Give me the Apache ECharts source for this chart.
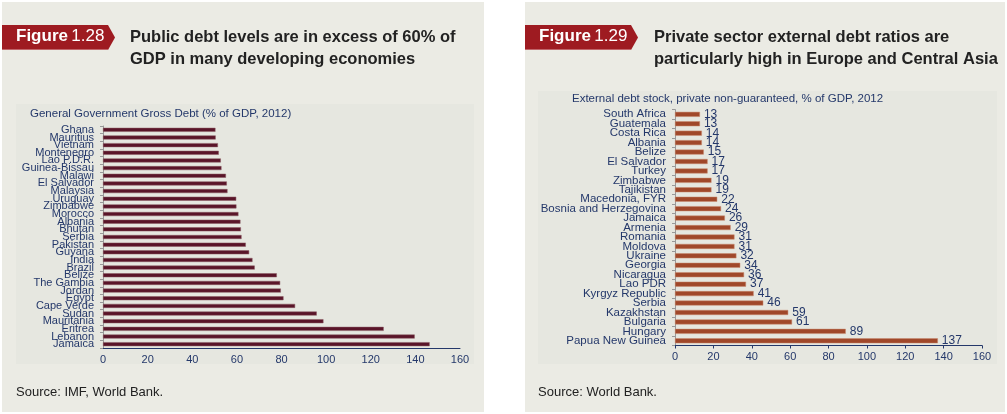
<!DOCTYPE html>
<html><head><meta charset="utf-8">
<script src="https://cdn.jsdelivr.net/npm/echarts@6/dist/echarts.min.js"></script>
<style>html,body{margin:0;padding:0;background:#fff}#c{width:1007px;height:414px}</style>
</head><body><div id="c"></div>
<script>
const leftCategories = ["Ghana","Mauritius","Vietnam","Montenegro","Lao P.D.R.","Guinea-Bissau","Malawi","El Salvador","Malaysia","Uruguay","Zimbabwe","Morocco","Albania","Bhutan","Serbia","Pakistan","Guyana","India","Brazil","Belize","The Gambia","Jordan","Egypt","Cape Verde","Sudan","Mauritania","Eritrea","Lebanon","Jamaica"];
const leftValues = [50.4,50.5,51.5,51.9,52.8,53.1,55.1,55.5,55.8,59.7,59.8,60.7,61.6,61.8,62.1,64.0,65.5,67.0,68.0,77.9,79.4,79.7,80.9,86.1,95.8,98.8,125.8,139.7,146.4];
const rightCategories = ["South Africa","Guatemala","Costa Rica","Albania","Belize","El Salvador","Turkey","Zimbabwe","Tajikistan","Macedonia, FYR","Bosnia and Herzegovina","Jamaica","Armenia","Romania","Moldova","Ukraine","Georgia","Nicaragua","Lao PDR","Kyrgyz Republic","Serbia","Kazakhstan","Bulgaria","Hungary","Papua New Guinea"];
const rightValues = [13,13,14,14,15,17,17,19,19,22,24,26,29,31,31,32,34,36,37,41,46,59,61,89,137];
const xTicks = [0,20,40,60,80,100,120,140,160];

const NAVY = '#24386a';
const FONT = '"Liberation Sans", Arial, sans-serif';
const chart = echarts.init(document.getElementById('c'));

function badge(x, num) {
  return [
    {type:'polygon', shape:{points:[[x,25],[x+106,25],[x+113,37.5],[x+106,50],[x,50]]}, style:{fill:'#9e1b21'}},
    {type:'line', shape:{x1:x,y1:49.5,x2:x+106,y2:49.5}, style:{stroke:'#c0666a',lineWidth:1}},
    {type:'text', left:x+14, top:28, style:{text:'{a|Figure} {b|'+num+'}', rich:{a:{fontSize:17,fontWeight:'bold',fill:'#fff',fontFamily:FONT},b:{fontSize:17,fill:'#fff',fontFamily:FONT}}}}
  ];
}

chart.setOption({
  backgroundColor:'#ffffff',
  animation:false,
  graphic:[
    {type:'rect', shape:{x:2,y:2,width:482,height:410}, style:{fill:'#ebebe4'}, z:-10},
    {type:'rect', shape:{x:16,y:104,width:458,height:260}, style:{fill:'#e6e7e0'}, z:-9},
    {type:'rect', shape:{x:525,y:2,width:480,height:410}, style:{fill:'#ebebe4'}, z:-10},
    {type:'rect', shape:{x:538,y:91,width:459,height:273}, style:{fill:'#e6e7e0'}, z:-9},
    ...badge(2,'1.28'),
    ...badge(525,'1.29'),
    {type:'text', left:130, top:26, style:{text:'Public debt levels are in excess of 60% of\nGDP in many developing economies', fontSize:16.5, fontWeight:'bold', fill:'#222', fontFamily:FONT, lineHeight:22}},
    {type:'text', left:654, top:26, style:{text:'Private sector external debt ratios are\nparticularly high in Europe and Central Asia', fontSize:16.5, fontWeight:'bold', fill:'#222', fontFamily:FONT, lineHeight:22}},
    {type:'text', left:30, top:108, style:{text:'General Government Gross Debt (% of GDP, 2012)', fontSize:11.5, fill:NAVY, fontFamily:FONT}},
    {type:'text', left:572, top:93, style:{text:'External debt stock, private non-guaranteed, % of GDP, 2012', fontSize:11.5, fill:NAVY, fontFamily:FONT}},
    {type:'text', left:16, top:386, style:{text:'Source: IMF, World Bank.', fontSize:13, fill:'#222', fontFamily:FONT}},
    {type:'text', left:538, top:386, style:{text:'Source: World Bank.', fontSize:13, fill:'#222', fontFamily:FONT}}
  ],
  grid:[
    {left:103, right:547, top:126, bottom:66},
    {left:675, right:25, top:109.6, bottom:68.5}
  ],
  xAxis:[0,1].map(i=>({
    type:'value', gridIndex:i, min:xTicks[0], max:xTicks[xTicks.length-1], interval:20,
    splitLine:{show:false},
    axisLine:{show:true, lineStyle:{color:NAVY, width:1}},
    axisTick:{show:i===1, length:3, lineStyle:{color:NAVY}},
    axisLabel:{color:NAVY, fontSize:11, fontFamily:FONT, margin:6}
  })),
  yAxis:[
    {type:'category', gridIndex:0, data:leftCategories, inverse:true,
     axisLine:{show:true, lineStyle:{color:'#999'}}, axisTick:{show:true,length:3,lineStyle:{color:'#999'}},
     axisLabel:{color:NAVY, fontSize:11, fontFamily:FONT, margin:9, interval:0}},
    {type:'category', gridIndex:1, data:rightCategories, inverse:true,
     axisLine:{show:true, lineStyle:{color:'#999'}}, axisTick:{show:true,length:3,lineStyle:{color:'#999'}},
     axisLabel:{color:NAVY, fontSize:11.5, fontFamily:FONT, margin:9, interval:0}}
  ],
  series:[
    {type:'bar', xAxisIndex:0, yAxisIndex:0, data:leftValues, barWidth:4,
     itemStyle:{color:'#5a1529', borderColor:'#8a5a63', borderWidth:0.5}},
    {type:'bar', xAxisIndex:1, yAxisIndex:1, data:rightValues, barWidth:5,
     itemStyle:{color:'#a0482a', borderColor:'#c98a6f', borderWidth:0.5},
     label:{show:true, position:'right', distance:4, color:NAVY, fontSize:12, fontFamily:FONT}}
  ]
});
</script></body></html>
